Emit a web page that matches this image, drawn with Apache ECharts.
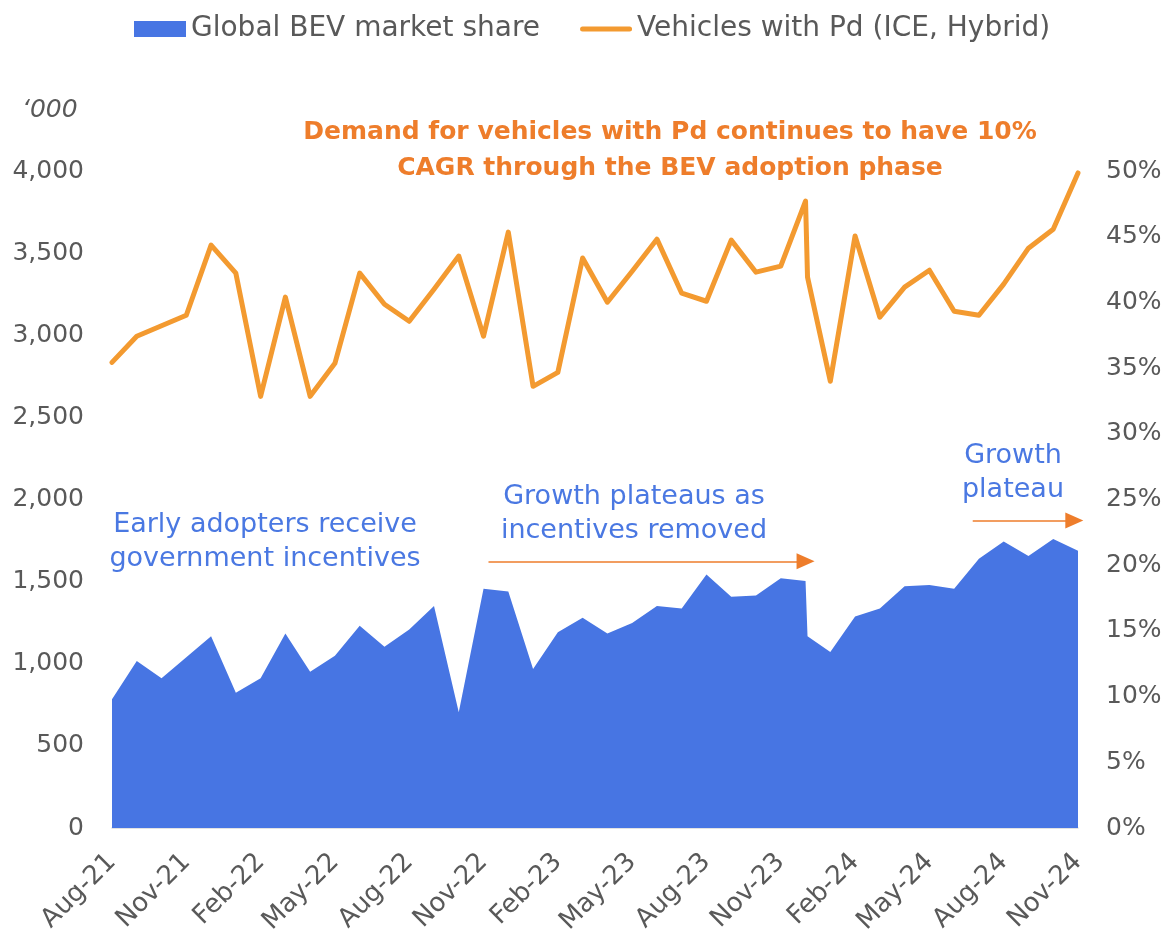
<!DOCTYPE html>
<html>
<head>
<meta charset="utf-8">
<script src="https://cdn.jsdelivr.net/npm/echarts@6/dist/echarts.min.js"></script>
<style>
  html, body { margin: 0; padding: 0; background: #fff; }
  #chart { width: 1169px; height: 940px; }
</style>
</head>
<body>
<div id="chart"></div>
<script>
// month index from Aug-21 (0) to Nov-24 (39); Dec-23 has two readings
var monthIdx = [0,1,2,3,4,5,6,7,8,9,10,11,12,13,14,15,16,17,18,19,20,21,22,23,24,25,26,27,28,28.08,29,30,31,32,33,34,35,36,37,38,39];
var tickLabels = ["Aug-21","Nov-21","Feb-22","May-22","Aug-22","Nov-22","Feb-23","May-23","Aug-23","Nov-23","Feb-24","May-24","Aug-24","Nov-24"];

// Global BEV market share, %
var bevShare = [9.8,12.7,11.4,13.0,14.6,10.3,11.4,14.8,11.9,13.1,15.4,13.8,15.1,16.9,8.8,18.2,18.0,12.1,14.9,16.0,14.8,15.6,16.9,16.7,19.3,17.6,17.7,19.0,18.8,14.6,13.4,16.1,16.7,18.4,18.5,18.2,20.5,21.8,20.7,22.0,21.1];

// Vehicles with Pd (ICE, Hybrid), '000
var pdVehicles = [2835,2994,3058,3122,3549,3378,2628,3232,2628,2829,3378,3189,3085,3280,3482,2994,3628,2689,2774,3470,3201,3390,3585,3256,3207,3579,3384,3421,3817,3354,2720,3604,3110,3293,3396,3146,3122,3311,3530,3646,3988];

var FONT = "DejaVu Sans";
var GREY = "#595959";
var BLUE = "#4775E3";
var ORANGE = "#F39A30";
var NOTE_ORANGE = "#EE7D2B";
var NOTE_BLUE = "#4A78E2";

var chart = echarts.init(document.getElementById('chart'));

var bevData = [], pdData = [];
for (var i = 0; i < monthIdx.length; i++) {
    bevData.push([monthIdx[i], bevShare[i]]);
    pdData.push([monthIdx[i], pdVehicles[i]]);
}

// thick line icon for the legend (tiny points keep the full icon height)
var lineIcon = 'path://M0,0 L0.01,0 M2.5,5.5 L49.5,5.5 A2.5,2.5 0 0 1 49.5,10.5 L2.5,10.5 A2.5,2.5 0 0 1 2.5,5.5 Z M0,16 L0.01,16';

var option = {
    animation: false,
    textStyle: { fontFamily: FONT, color: GREY },
    legend: {
        top: 10,
        left: 129,
        itemWidth: 52,
        itemHeight: 16,
        itemGap: 40,
        textStyle: { fontFamily: FONT, fontSize: 28, color: GREY },
        data: [
            { name: "Global BEV market share", icon: 'rect' },
            { name: "Vehicles with Pd (ICE, Hybrid)", icon: lineIcon }
        ]
    },
    grid: { left: 112, right: 91, top: 171, bottom: 112 },
    xAxis: {
        type: 'value',
        min: 0,
        max: 39,
        interval: 3,
        axisLine: { show: true, lineStyle: { color: '#D9D9D9', width: 1.5 } },
        axisTick: { show: false },
        splitLine: { show: false },
        axisLabel: {
            rotate: 45,
            margin: 30,
            fontFamily: FONT,
            fontSize: 26,
            color: GREY,
            formatter: function (v) { return tickLabels[Math.round(v / 3)] || ''; }
        }
    },
    yAxis: [
        {
            type: 'value',
            min: 0,
            max: 4000,
            interval: 500,
            axisLine: { show: false },
            axisTick: { show: false },
            splitLine: { show: false },
            axisLabel: {
                margin: 28,
                fontFamily: FONT,
                fontSize: 25,
                color: GREY,
                formatter: function (v) { return v.toLocaleString('en-US'); }
            }
        },
        {
            type: 'value',
            min: 0,
            max: 50,
            interval: 5,
            axisLine: { show: false },
            axisTick: { show: false },
            splitLine: { show: false },
            axisLabel: {
                margin: 28,
                fontFamily: FONT,
                fontSize: 25,
                color: GREY,
                formatter: '{value}%'
            }
        }
    ],
    series: [
        {
            name: "Global BEV market share",
            type: 'line',
            yAxisIndex: 1,
            data: bevData,
            symbol: 'none',
            clip: false,
            lineStyle: { width: 0, color: BLUE },
            itemStyle: { color: BLUE },
            areaStyle: { color: BLUE, opacity: 1 },
            z: 1,
            markLine: {
                silent: true,
                symbol: ['none', 'triangle'],
                symbolSize: [16, 18],
                label: { show: false },
                lineStyle: { color: NOTE_ORANGE, width: 1.5, type: 'solid' },
                data: [
                    [{ coord: [-0.16, 13.8] }, { coord: [12.6, 18.15] }],
                    [{ coord: [15.2, 20.3] }, { coord: [28.0, 20.3] }],
                    [{ coord: [34.75, 23.4] }, { coord: [38.85, 23.4] }]
                ]
            }
        },
        {
            name: "Vehicles with Pd (ICE, Hybrid)",
            type: 'line',
            yAxisIndex: 0,
            data: pdData,
            symbol: 'none',
            lineStyle: { width: 5, color: ORANGE, cap: 'round', join: 'round' },
            itemStyle: { color: ORANGE },
            z: 3
        }
    ],
    graphic: [
        {
            type: 'text', left: 22, top: 98,
            style: { text: "\u2018000", font: "italic 25px " + FONT, fill: GREY }
        },
        {
            type: 'text', x: 670, y: 114,
            style: {
                text: "Demand for vehicles with Pd continues to have 10%\nCAGR through the BEV adoption phase",
                font: "bold 25px " + FONT, fill: NOTE_ORANGE, align: 'center', lineHeight: 36
            }
        },
        {
            type: 'text', x: 265, y: 508,
            style: {
                text: "Early adopters receive\ngovernment incentives",
                font: "27px " + FONT, fill: NOTE_BLUE, align: 'center', lineHeight: 34
            }
        },
        {
            type: 'text', x: 634, y: 480,
            style: {
                text: "Growth plateaus as\nincentives removed",
                font: "27px " + FONT, fill: NOTE_BLUE, align: 'center', lineHeight: 34
            }
        },
        {
            type: 'text', x: 1013, y: 439,
            style: {
                text: "Growth\nplateau",
                font: "27px " + FONT, fill: NOTE_BLUE, align: 'center', lineHeight: 34
            }
        }
    ]
};

chart.setOption(option);
</script>
</body>
</html>
